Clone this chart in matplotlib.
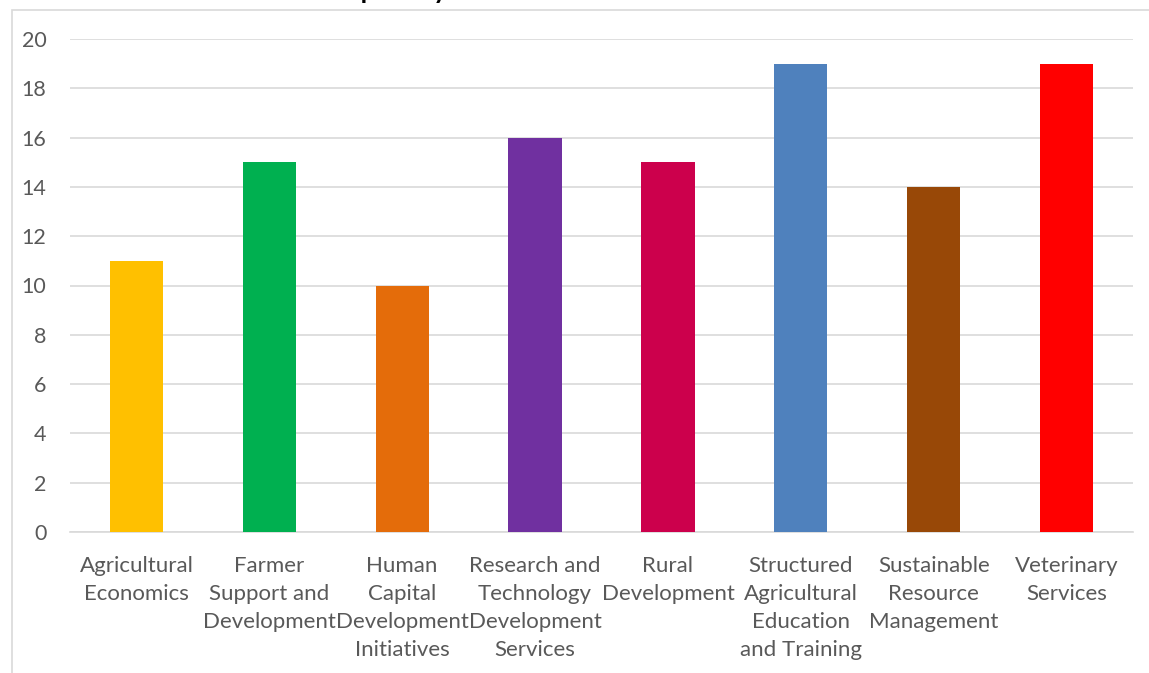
import matplotlib.pyplot as plt
from matplotlib.patches import Rectangle

categories = [
    "Agricultural\nEconomics",
    "Farmer\nSupport and\nDevelopment",
    "Human\nCapital\nDevelopment\nInitiatives",
    "Research and\nTechnology\nDevelopment\nServices",
    "Rural\nDevelopment",
    "Structured\nAgricultural\nEducation\nand Training",
    "Sustainable\nResource\nManagement",
    "Veterinary\nServices",
]
values = [11, 15, 10, 16, 15, 19, 14, 19]
colors = ["#FFC000", "#00B050", "#E46C0A", "#7030A0",
          "#CC004C", "#4F81BD", "#984807", "#FF0000"]
yticks = [0, 2, 4, 6, 8, 10, 12, 14, 16, 18, 20]

plt.rcParams['font.family'] = ['Lato', 'DejaVu Sans']

fig = plt.figure(figsize=(11.49, 6.73), dpi=100)
ax = fig.add_axes([70 / 1149, 1 - 532 / 673, 1063 / 1149, 493 / 673])

x = range(len(categories))
ax.bar(x, values, width=0.4, color=colors, zorder=3)

ax.set_xlim(-0.5, len(categories) - 0.5)
ax.set_ylim(0, 20)
ax.set_yticks(yticks)
ax.set_xticks(list(x))
ax.set_xticklabels(categories, fontsize=16, color="#595959", linespacing=1.5, va='top')
ax.tick_params(axis='y', labelsize=15.5, labelcolor="#595959", length=0, pad=17)
ax.tick_params(axis='x', length=0, pad=17)
ax.grid(axis='y', color="#D9D9D9", linewidth=1.2, zorder=0)
for side in ['top', 'right', 'left']:
    ax.spines[side].set_visible(False)
ax.spines['bottom'].set_color("#D9D9D9")
ax.spines['bottom'].set_linewidth(1.2)

# chart frame, running off the right and bottom edges
fig.patches.append(Rectangle((12 / 1149, -0.1), 1.2, 1.1 - 10 / 673,
                             transform=fig.transFigure, fill=False,
                             edgecolor="#D9D9D9", linewidth=1.2))

# title sits above the canvas, only its descenders reach in
fig.text(0.335, 1 + 1 / 673, "Number of Outputs by Directorate", ha='center',
         va='baseline', fontsize=19, fontweight='bold', color="black")

fig.savefig("out.png", dpi=100)
